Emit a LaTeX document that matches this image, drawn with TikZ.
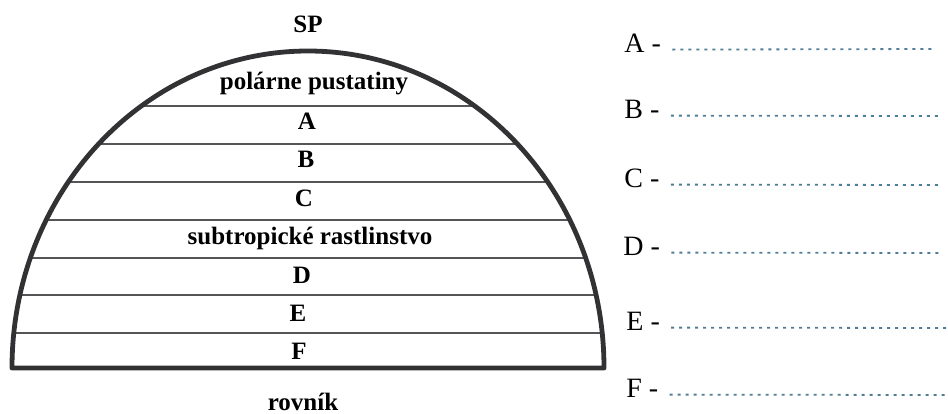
\documentclass[tikz,border=0pt]{standalone}
\usepackage{fontspec}
\setmainfont{Liberation Serif}
\usepackage{tikz}
\usetikzlibrary{positioning, calc}
\definecolor{rimgray}{RGB}{50,50,52}
\definecolor{zonegray}{RGB}{85,85,88}
\definecolor{dotblue}{RGB}{80,125,150}
\tikzstyle{zone} = [inner sep=0pt, anchor=base, font=\fontsize{12.5}{14}\selectfont\bfseries]
\tikzstyle{answer} = [inner sep=0pt, anchor=base west, font=\fontsize{14}{16}\selectfont]
\tikzstyle{rim} = [draw=rimgray, line width=2.4pt, line join=round]
\tikzstyle{belt} = [draw=zonegray, line width=0.75pt]
\tikzstyle{dotrow} = [draw=dotblue, line width=0.9pt, dash pattern=on 1.5pt off 2.5pt]

\begin{document}
\begin{tikzpicture}[x=0.5pt, y=-0.5pt]
        \useasboundingbox (0,0) rectangle (948,413);

        % belts inside the half ellipse
        \begin{scope}
            \clip (308,368) ellipse (296 and 317);
            \foreach \yy in {106,144,182,220,258,295,333}
                \path [belt] (0,\yy) -- (620,\yy);
        \end{scope}
        \path [rim] (12,368) arc [start angle=180, end angle=360, x radius=296, y radius=317] -- cycle;

        \node [zone] (pole) at (308,32) {SP};
        \node [zone] (polar) at (314,89) {polárne pustatiny};
        \node [zone] (zoneA) at (307,129) {A};
        \node [zone] (zoneB) at (306,167) {B};
        \node [zone] (zoneC) at (304,206) {C};
        \node [zone] (subtrop) at (310,244) {subtropické rastlinstvo};
        \node [zone] (zoneD) at (302,283) {D};
        \node [zone] (zoneE) at (298,321) {E};
        \node [zone] (zoneF) at (299,359) {F};
        \node [zone] (equator) at (303,410) {rovník};

        \node [answer] (ansA) at (624,52) {A -};
        \node [answer] (ansB) at (624,118) {B -};
        \node [answer] (ansC) at (624,187) {C -};
        \node [answer] (ansD) at (623,255) {D -};
        \node [answer] (ansE) at (626,330) {E -};
        \node [answer] (ansF) at (626,397) {F -};

        \coordinate (endA) at (933,49);
        \coordinate (endB) at (940,116);
        \coordinate (endC) at (940,185);
        \coordinate (endD) at (943,253);
        \coordinate (endE) at (950,328);
        \coordinate (endF) at (950,395);

        \path [dotrow] ([xshift=5.5pt,yshift=1.2pt]ansA.base east) -- (endA);
        \path [dotrow] ([xshift=5.5pt,yshift=1.2pt]ansB.base east) -- (endB);
        \path [dotrow] ([xshift=5.5pt,yshift=1.2pt]ansC.base east) -- (endC);
        \path [dotrow] ([xshift=5.5pt,yshift=1.2pt]ansD.base east) -- (endD);
        \path [dotrow] ([xshift=5.5pt,yshift=1.2pt]ansE.base east) -- (endE);
        \path [dotrow] ([xshift=5.5pt,yshift=1.2pt]ansF.base east) -- (endF);
    \end{tikzpicture}
\end{document}
